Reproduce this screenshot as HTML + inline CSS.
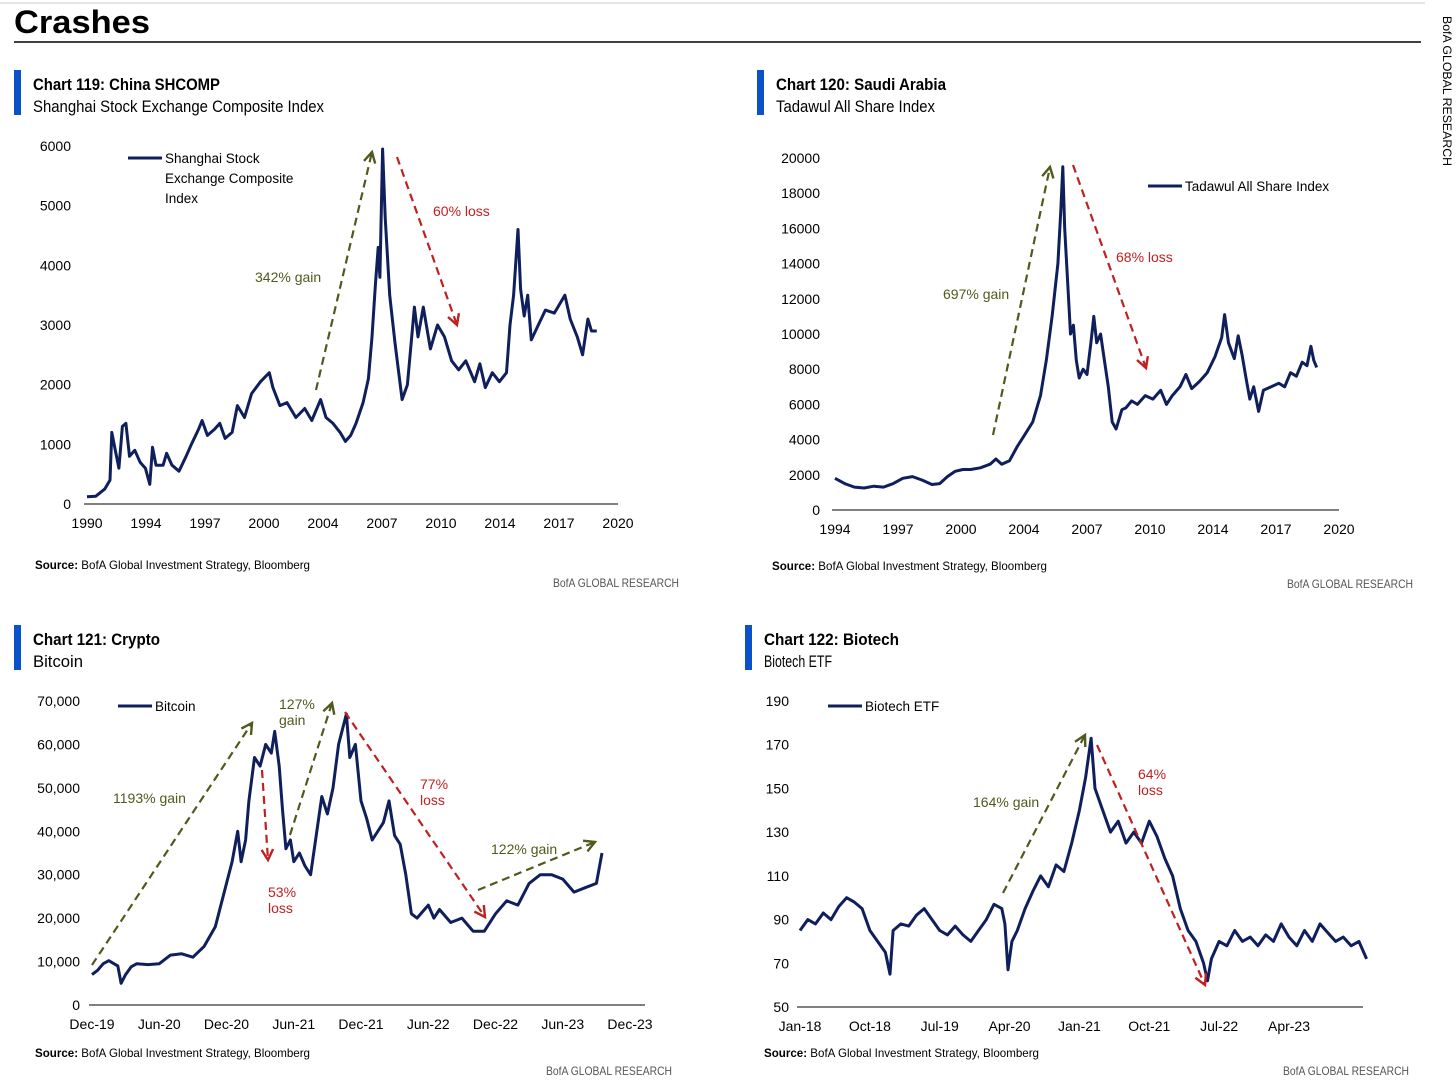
<!DOCTYPE html>
<html><head><meta charset="utf-8">
<style>
body{margin:0;background:#fff;width:1456px;height:1079px;overflow:hidden;font-family:"Liberation Sans",sans-serif;}
svg text{font-family:"Liberation Sans",sans-serif;}
</style></head>
<body>
<svg id="c" width="1456" height="1079">
<line x1="0" y1="3" x2="1425" y2="3" stroke="#ccc" stroke-width="1"/>
<text x="14" y="33" font-size="32" font-weight="bold" textLength="136" lengthAdjust="spacingAndGlyphs" fill="#000">Crashes</text>
<line x1="14" y1="42" x2="1421" y2="42" stroke="#000" stroke-width="1.5"/>
<text transform="translate(1443,16) rotate(90)" font-size="12" textLength="150" lengthAdjust="spacingAndGlyphs" fill="#000">BofA GLOBAL RESEARCH</text>
</svg>
<script>
const chinaX=[1990,1994,1997,2000,2004,2007,2010,2014,2017,2020];
const chinaY=[0,1000,2000,3000,4000,5000,6000];
const chinaData=[[1990.0,120],[1990.5,130],[1991.0,250],[1991.3,400],[1991.4,1200],[1991.6,900],[1991.8,600],[1992.0,1300],[1992.2,1350],[1992.4,800],[1992.7,900],[1993.0,700],[1993.3,600],[1993.55,330],[1993.7,950],[1993.9,650],[1994.3,650],[1994.5,850],[1994.8,650],[1995.2,550],[1995.6,800],[1995.9,1000],[1996.3,1250],[1996.5,1400],[1996.8,1150],[1997.2,1250],[1997.5,1350],[1997.8,1100],[1998.2,1200],[1998.5,1650],[1998.9,1450],[1999.3,1850],[1999.8,2050],[2000.3,2200],[2000.5,1950],[2000.9,1650],[2001.3,1700],[2001.8,1450],[2002.3,1600],[2002.7,1400],[2003.2,1750],[2003.5,1450],[2003.9,1350],[2004.3,1200],[2004.6,1050],[2004.9,1150],[2005.2,1350],[2005.6,1700],[2005.9,2100],[2006.1,2800],[2006.3,3700],[2006.45,4300],[2006.55,3800],[2006.7,5950],[2006.85,4800],[2007.1,3500],[2007.4,2700],[2007.8,1750],[2008.1,2000],[2008.5,3300],[2008.7,2800],[2009.0,3300],[2009.4,2600],[2009.8,3000],[2010.2,2800],[2010.6,2400],[2011.0,2250],[2011.4,2400],[2011.9,2050],[2012.2,2350],[2012.5,1950],[2012.9,2200],[2013.3,2050],[2013.7,2200],[2013.9,3000],[2014.1,3500],[2014.35,4600],[2014.5,3600],[2014.7,3150],[2014.9,3500],[2015.1,2750],[2015.5,3000],[2015.9,3250],[2016.4,3200],[2016.8,3400],[2017.0,3500],[2017.3,3100],[2017.7,2800],[2018.0,2500],[2018.3,3100],[2018.5,2900],[2018.8,2900]];
const saudiX=[1994,1997,2000,2004,2007,2010,2014,2017,2020];
const saudiY=[0,2000,4000,6000,8000,10000,12000,14000,16000,18000,20000];
const saudiData=[[1994.0,1800],[1994.5,1500],[1995.0,1300],[1995.5,1250],[1996.0,1350],[1996.5,1300],[1997.0,1500],[1997.5,1800],[1998.0,1900],[1998.5,1700],[1999.0,1450],[1999.4,1500],[1999.8,1900],[2000.2,2200],[2000.6,2300],[2001.0,2300],[2001.5,2400],[2002.0,2600],[2002.3,2900],[2002.6,2600],[2003.0,2800],[2003.4,3600],[2003.8,4300],[2004.2,5000],[2004.6,6500],[2004.9,8500],[2005.2,11000],[2005.5,14000],[2005.65,17000],[2005.75,19500],[2005.85,16000],[2006.0,13000],[2006.15,10000],[2006.3,10500],[2006.45,8500],[2006.6,7500],[2006.8,8000],[2007.0,7700],[2007.2,9500],[2007.35,11000],[2007.5,9500],[2007.7,10000],[2007.9,8500],[2008.1,7000],[2008.3,5000],[2008.5,4600],[2008.8,5700],[2009.0,5800],[2009.3,6200],[2009.6,6000],[2010.0,6500],[2010.4,6300],[2010.8,6800],[2011.1,6000],[2011.4,6500],[2011.8,7000],[2012.1,7700],[2012.4,6900],[2012.8,7300],[2013.2,7800],[2013.6,8700],[2013.95,9800],[2014.1,11100],[2014.3,9500],[2014.6,8600],[2014.8,9900],[2015.0,8800],[2015.2,7500],[2015.4,6300],[2015.6,7000],[2015.85,5600],[2016.1,6800],[2016.5,7000],[2016.9,7200],[2017.2,7000],[2017.5,7800],[2017.8,7600],[2018.1,8400],[2018.35,8200],[2018.55,9300],[2018.7,8500],[2018.85,8100]];
const btcXLabels=['Dec-19','Jun-20','Dec-20','Jun-21','Dec-21','Jun-22','Dec-22','Jun-23','Dec-23'];
const btcY=[0,10000,20000,30000,40000,50000,60000,70000];
const btcData=[[0,7000],[0.5,8000],[1,9500],[1.5,10200],[2.3,9000],[2.6,5000],[3,7000],[3.5,8800],[4,9500],[5,9300],[6,9500],[7,11500],[8,11800],[9,11000],[10,13500],[11,18000],[12,28000],[12.5,33000],[13,40000],[13.3,33000],[13.7,38000],[14,47000],[14.5,57000],[15,55000],[15.5,60000],[16,58000],[16.3,63000],[16.7,55000],[17,45000],[17.3,36000],[17.7,38000],[18,33000],[18.5,35000],[19,32000],[19.5,30000],[20,39000],[20.5,48000],[21,44000],[21.5,50000],[22,60000],[22.7,67000],[23,57000],[23.5,60000],[24,47000],[24.5,43000],[25,38000],[26,42000],[26.5,47000],[27,39000],[27.5,37000],[28,30000],[28.5,21000],[29,20000],[30,23000],[30.5,20000],[31,22000],[32,19000],[33,20000],[34,17000],[35,17000],[36,21000],[37,24000],[38,23000],[39,28000],[40,30000],[41,30000],[42,29000],[43,26000],[44,27000],[45,28000],[45.5,35000]];
const bioXLabels=['Jan-18','Oct-18','Jul-19','Apr-20','Jan-21','Oct-21','Jul-22','Apr-23'];
const bioY=[50,70,90,110,130,150,170,190];
const bioData=[[0,85],[1,90],[2,88],[3,93],[4,90],[5,96],[6,100],[7,98],[8,95],[9,85],[10,80],[11,75],[11.6,65],[12,85],[13,88],[14,87],[15,92],[16,95],[17,90],[18,85],[19,83],[20,87],[21,83],[22,80],[23,85],[24,90],[25,97],[26,95],[26.4,88],[26.8,67],[27.3,80],[28,85],[29,95],[30,103],[31,110],[32,105],[33,115],[34,112],[35,125],[36,140],[36.8,155],[37.5,173],[38,150],[39,140],[40,130],[41,135],[42,125],[43,130],[44,125],[45,135],[46,128],[47,118],[48,110],[49,95],[50,85],[51,80],[52,70],[52.5,62],[53,72],[54,80],[55,78],[56,85],[57,80],[58,82],[59,78],[60,83],[61,80],[62,88],[63,82],[64,78],[65,85],[66,80],[67,88],[68,84],[69,80],[70,82],[71,78],[72,80],[73,72]];

const NS='http://www.w3.org/2000/svg';
const svg=document.getElementById('c');
function mk(tag,attrs,parent,text){const e=document.createElementNS(NS,tag);for(const k in attrs)e.setAttribute(k,attrs[k]);if(text!==undefined)e.textContent=text;(parent||svg).appendChild(e);return e;}
const NAVY='#0f1f5c',GREEN='#4f5a1c',RED='#c0201f';
const LA='spacingAndGlyphs';

function panel(o){
  const g=mk('g',{});
  
  
  const bar=mk('rect',{x:o.bx,y:o.by,width:7,height:45,fill:'#0b52c9'},g);
  
  
  const t=mk('text',{x:o.bx+19,y:o.by+20,'font-size':17,'font-weight':'bold',fill:'#000',textLength:o.tw,lengthAdjust:LA},g,o.title);
  
  
  const s=mk('text',{x:o.bx+19,y:o.by+42,'font-size':17,fill:'#000',textLength:o.sw,lengthAdjust:LA},g,o.sub);
  
  
  const xs=v=>o.x0+(v-o.xmin)/(o.xmax-o.xmin)*(o.x1-o.x0);
  const ys=v=>o.y0-(v-o.ymin)/(o.ymax-o.ymin)*(o.y0-o.y1);
  const ax=mk('line',{x1:o.x0-3,y1:o.y0,x2:o.axEnd,y2:o.y0,stroke:'#000','stroke-width':1},g);
  
  
  o.yt.forEach(v=>{const e=mk('text',{x:o.ylx,y:ys(v)+5,'font-size':14,'text-anchor':'end',fill:'#000'},g,o.yfmt(v));
    
    });
  o.xt.forEach((lab,i)=>{const v=o.xtv(i,lab);const e=mk('text',{x:xs(v),y:o.y0+24,'font-size':14,'text-anchor':'middle',fill:'#000'},g,lab);
    
    });
  const d=o.data.map((p,i)=>(i?'L':'M')+xs(p[0]).toFixed(1)+' '+ys(p[1]).toFixed(1)).join(' ');
  const ln=mk('path',{d:d,fill:'none',stroke:NAVY,'stroke-width':3,'stroke-linejoin':'round'},g);
  
  
  const ll=mk('line',{x1:o.lg[0],y1:o.lg[1],x2:o.lg[0]+34,y2:o.lg[1],stroke:NAVY,'stroke-width':3},g);
  
  
  o.lgText.forEach((tx,i)=>{const e=mk('text',{x:o.lg[0]+37,y:o.lg[1]+5+i*20,'font-size':13.5,fill:'#000'},g,tx);
    
    });
  const src=mk('text',{x:o.src[0],y:o.src[1],'font-size':12,fill:'#000',textLength:275,lengthAdjust:LA},g);
  
  
  mk('tspan',{'font-weight':'bold'},src,'Source:');
  mk('tspan',{},src,'  BofA Global Investment Strategy, Bloomberg');
  const r=mk('text',{x:o.res[0],y:o.res[1],'font-size':12,fill:'#555',textLength:126,lengthAdjust:LA},g,'BofA GLOBAL RESEARCH');
  
  
  o.arrows.forEach(a=>{
    const col=a[4]?GREEN:RED;
    const ar=mk('line',{x1:a[0],y1:a[1],x2:a[2],y2:a[3],stroke:col,'stroke-width':2.2,'stroke-dasharray':'8 5'},g);
    
    
    const ang=Math.atan2(a[3]-a[1],a[2]-a[0]);const L=12,W=0.5;
    const p1=[a[2]-L*Math.cos(ang-W),a[3]-L*Math.sin(ang-W)],p2=[a[2]-L*Math.cos(ang+W),a[3]-L*Math.sin(ang+W)];
    const hd=mk('polyline',{points:`${p1} ${a[2]},${a[3]} ${p2}`,fill:'none',stroke:col,'stroke-width':2.4},g);
    
    
  });
  o.notes.forEach(n=>{n[2].split('|').forEach((tx,i)=>{const e=mk('text',{x:n[0],y:n[1]+i*16,'font-size':14,fill:n[3]?GREEN:RED},g,tx);
    
    });});
}
const fmtK=v=>v.toLocaleString('en-US');
panel({name:'chart-119-china',bx:14,by:70,title:'Chart 119: China SHCOMP',sub:'Shanghai Stock Exchange Composite Index',tw:187,sw:291,
 x0:87,x1:618,xmin:1990,xmax:2020,y0:504,y1:146,ymin:0,ymax:6000,axEnd:618,ylx:71,
 yt:chinaY,yfmt:v=>String(v),xt:chinaX.map(String),xtv:(i)=>1990+i*30/9,data:chinaData,
 lg:[128,158],lgText:['Shanghai Stock','Exchange Composite','Index'],src:[35,569],res:[553,587],
 arrows:[[316,390,372,152,1],[397,157,457,325,0]],notes:[[255,282,'342% gain',1],[433,216,'60% loss',0]]});
panel({name:'chart-120-saudi',bx:757,by:70,title:'Chart 120: Saudi Arabia',sub:'Tadawul All Share Index',tw:170,sw:159,
 x0:835,x1:1339,xmin:1994,xmax:2020,y0:510,y1:158,ymin:0,ymax:20000,axEnd:1339,ylx:820,
 yt:saudiY,yfmt:v=>String(v),xt:saudiX.map(String),xtv:(i)=>1994+i*26/8,data:saudiData,
 lg:[1148,186],lgText:['Tadawul All Share Index'],src:[772,570],res:[1287,588],
 arrows:[[993,435,1050,167,1],[1073,165,1146,368,0]],notes:[[943,299,'697% gain',1],[1116,262,'68% loss',0]]});
panel({name:'chart-121-bitcoin',bx:14,by:625,title:'Chart 121: Crypto',sub:'Bitcoin',tw:127,sw:50,
 x0:92,x1:630,xmin:0,xmax:48,y0:1005,y1:701,ymin:0,ymax:70000,axEnd:645,ylx:80,
 yt:btcY,yfmt:fmtK,xt:btcXLabels,xtv:(i)=>i*6,data:btcData,
 lg:[118,706],lgText:['Bitcoin'],src:[35,1057],res:[546,1075],
 arrows:[[92,965,252,723,1],[262,770,268,860,0],[290,835,332,703,1],[345,712,485,917,0],[478,890,595,842,1]],
 notes:[[113,803,'1193% gain',1],[268,897,'53%|loss',0],[279,709,'127%|gain',1],[420,789,'77%|loss',0],[491,854,'122% gain',1]]});
panel({name:'chart-122-biotech',bx:745,by:625,title:'Chart 122: Biotech',sub:'Biotech ETF',tw:135,sw:68,
 x0:800,x1:1289,xmin:0,xmax:63,y0:1007,y1:701,ymin:50,ymax:190,axEnd:1363,ylx:789,
 yt:bioY,yfmt:v=>String(v),xt:bioXLabels,xtv:(i)=>i*9,data:bioData,
 lg:[828,706],lgText:['Biotech ETF'],src:[764,1057],res:[1283,1075],
 arrows:[[1003,893,1085,735,1],[1097,745,1205,985,0]],notes:[[973,807,'164% gain',1],[1138,779,'64%|loss',0]]});
</script>
</body></html>
